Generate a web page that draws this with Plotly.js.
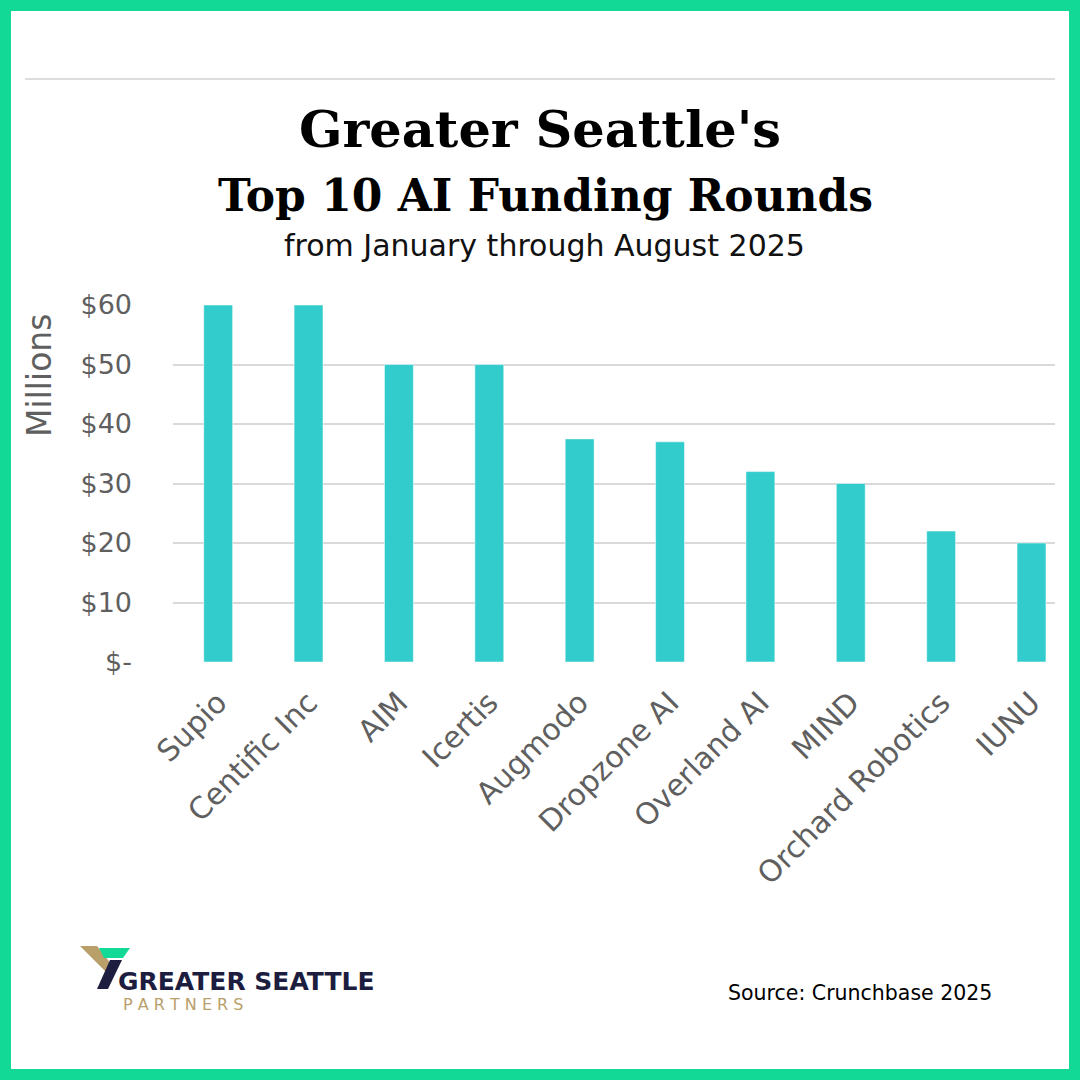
<!DOCTYPE html>
<html>
<head>
<meta charset="utf-8">
<script src="https://cdn.plot.ly/plotly-3.0.1.min.js"></script>
<style>
html,body{margin:0;padding:0;background:#fff;}
#chart{width:1080px;height:1080px;}
</style>
</head>
<body>
<div id="chart"></div>
<script>
const categories = ["Supio", "Centific Inc", "AIM", "Icertis", "Augmodo", "Dropzone AI", "Overland AI", "MIND", "Orchard Robotics", "IUNU"];
const fundingMillions = [60, 60, 50, 50, 37.5, 37, 32, 30, 22, 20];
const yTickVals = [0, 10, 20, 30, 40, 50, 60];
const yTickText = ["$-", "$10", "$20", "$30", "$40", "$50", "$60"];

// plot area in pixels: left 173, right 1055, top 305, bottom 662
const L = 173, R = 1055, T = 305, B = 662;
const X = x => (x - L) / (R - L);
const Y = y => (B - y) / (B - T);
const P = pts => 'M ' + pts.map(p => X(p[0]).toFixed(5) + ' ' + Y(p[1]).toFixed(5)).join(' L ') + ' Z';

const grey = '#5f5f5f';
const sans = 'DejaVu Sans, sans-serif';

const trace = {
  type: 'bar',
  x: categories,
  y: fundingMillions,
  width: 0.32,
  marker: {color: '#33cccc', line: {color: 'rgba(255,255,255,0.5)', width: 1}},
  hoverinfo: 'x+y'
};

const layout = {
  width: 1080, height: 1080,
  margin: {l: L, r: 1080 - R, t: T, b: 1080 - B, pad: 0},
  paper_bgcolor: '#ffffff',
  plot_bgcolor: '#ffffff',
  showlegend: false,
  title: {
    text: "Greater Seattle's",
    x: 0.5, xanchor: 'center', xref: 'container',
    y: 1 - 129 / 1080, yanchor: 'middle', yref: 'container',
    font: {family: 'DejaVu Serif, serif', weight: 'bold', size: 51, color: '#000000'}
  },
  xaxis: {
    type: 'category',
    range: [-0.5, 9.26],
    tickangle: -45,
    tickfont: {family: sans, size: 30, color: grey},
    showgrid: false,
    zeroline: false,
    showline: false,
    ticks: '',
    ticklabelstandoff: 16,
    automargin: false,
    fixedrange: true
  },
  yaxis: {
    range: [0, 60],
    tickvals: yTickVals,
    ticktext: yTickText,
    tickfont: {family: sans, size: 27, color: grey},
    showgrid: true,
    gridcolor: '#d9d9d9',
    gridwidth: 2,
    zeroline: false,
    showline: false,
    ticks: '',
    ticklabelstandoff: 40,
    automargin: false,
    fixedrange: true
  },
  shapes: [
    // green frame
    {type: 'rect', xref: 'paper', yref: 'paper', x0: X(5.5), x1: X(1074.5), y0: Y(5.5), y1: Y(1074.5),
     line: {color: '#13d996', width: 11}, fillcolor: 'rgba(0,0,0,0)', layer: 'above'},
    // top rule
    {type: 'line', xref: 'paper', yref: 'paper', x0: X(25), x1: X(1055), y0: Y(79), y1: Y(79),
     line: {color: '#dddddd', width: 2}},
    // logo: gold piece
    {type: 'path', xref: 'paper', yref: 'paper', path: P([[80, 946], [97, 946], [112, 965], [106, 972]]),
     fillcolor: '#b9a06a', line: {width: 0}},
    // logo: green piece
    {type: 'path', xref: 'paper', yref: 'paper', path: P([[99, 948], [130, 948], [123, 958], [104, 958]]),
     fillcolor: '#13d996', line: {width: 0}},
    // logo: navy slash
    {type: 'path', xref: 'paper', yref: 'paper', path: P([[110, 960], [122, 960], [108, 989], [97, 989]]),
     fillcolor: '#1d1d40', line: {width: 0}}
  ],
  annotations: [
    {text: 'Top 10 AI Funding Rounds', xref: 'paper', yref: 'paper', x: X(545), y: Y(195),
     xanchor: 'center', yanchor: 'middle', showarrow: false,
     font: {family: 'DejaVu Serif, serif', weight: 'bold', size: 44, color: '#000000'}},
    {text: 'from January through August 2025', xref: 'paper', yref: 'paper', x: X(544), y: Y(246),
     xanchor: 'center', yanchor: 'middle', showarrow: false,
     font: {family: sans, size: 30, color: '#111111'}},
    {text: 'Millions', xref: 'paper', yref: 'paper', x: X(39), y: Y(376), textangle: -90,
     xanchor: 'center', yanchor: 'middle', showarrow: false,
     font: {family: sans, size: 33, color: grey}},
    {text: 'GREATER SEATTLE', xref: 'paper', yref: 'paper', x: X(116), y: Y(981),
     xanchor: 'left', yanchor: 'middle', showarrow: false,
     font: {family: sans, weight: 'bold', size: 25, color: '#1d1d40'}},
    {text: 'P A R T N E R S', xref: 'paper', yref: 'paper', x: X(121), y: Y(1004),
     xanchor: 'left', yanchor: 'middle', showarrow: false,
     font: {family: sans, size: 16, color: '#b9a06a'}},
    {text: 'Source: Crunchbase 2025', xref: 'paper', yref: 'paper', x: X(726), y: Y(993),
     xanchor: 'left', yanchor: 'middle', showarrow: false,
     font: {family: sans, size: 20.5, color: '#000000'}}
  ]
};

Plotly.newPlot('chart', [trace], layout, {displayModeBar: false, staticPlot: true});
</script>
</body>
</html>
